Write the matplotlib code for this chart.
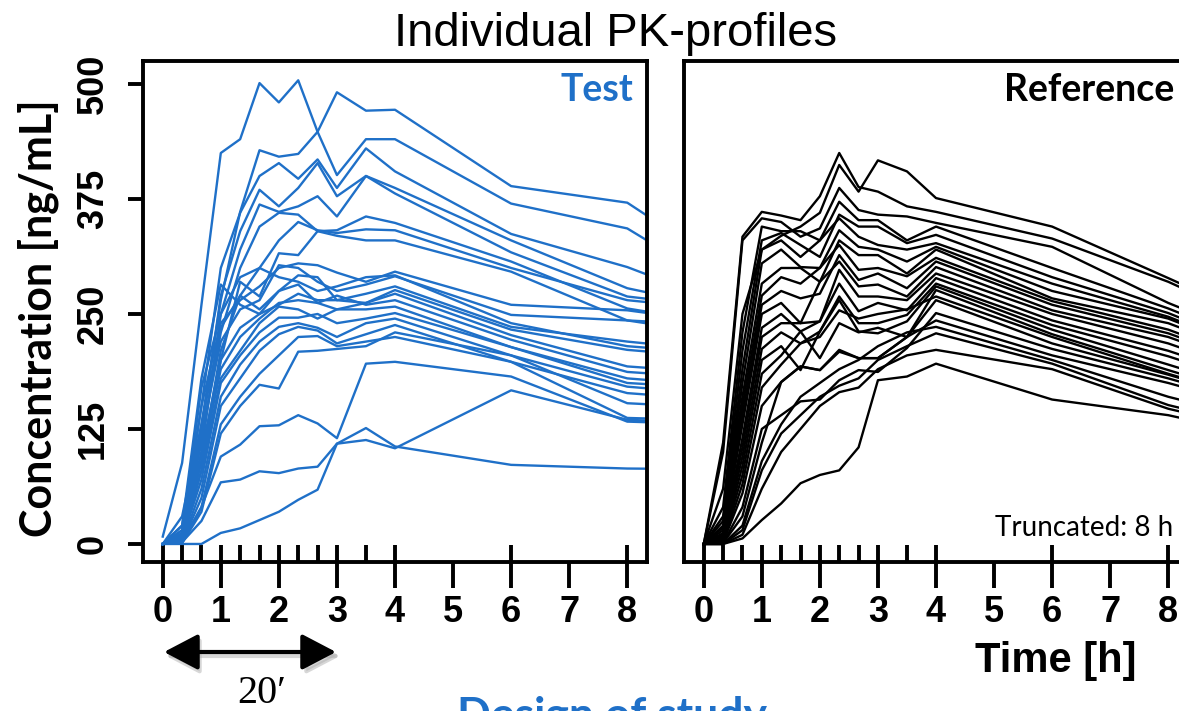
import matplotlib
matplotlib.use("Agg")
import matplotlib.pyplot as plt
from matplotlib.patches import FancyArrowPatch, ArrowStyle

# ---------------- data ----------------
sample_times = [0, 1/3, 2/3, 1, 4/3, 5/3, 2, 7/3, 8/3, 3, 3.5, 4, 6, 8, 12]
x_major_ticks = [0, 1, 2, 3, 4, 5, 6, 7, 8]
x_tick_labels = ["0", "1", "2", "3", "4", "5", "6", "7", "8"]
x_sample_ticks = [0, 1/3, 2/3, 1, 4/3, 5/3, 2, 7/3, 8/3, 3, 3.5, 4, 6, 8]
y_ticks = [0, 125, 250, 375, 500]
y_tick_labels = ["0", "125", "250", "375", "500"]

test_conc = [
    [8, 88, 260, 425, 440, 501, 480, 504, 448, 401, 440, 440, 370, 343, 190],
    [0, 30, 130, 265, 361, 428, 421, 424, 448, 491, 471, 472, 389, 371, 205],
    [0, 20, 150, 300, 360, 400, 414, 397, 418, 387, 430, 405, 337, 301, 205],
    [0, 15, 120, 270, 340, 385, 367, 387, 414, 378, 400, 387, 330, 278, 225],
    [0, 10, 100, 250, 320, 369, 361, 367, 378, 356, 400, 381, 317, 269, 240],
    [0, 12, 110, 230, 300, 345, 360, 358, 340, 341, 356, 349, 307, 256, 215],
    [0, 8, 90, 210, 270, 300, 330, 350, 341, 338, 342, 341, 300, 265, 240],
    [0, 5, 80, 200, 285, 269, 316, 314, 340, 335, 330, 330, 296, 243, 230],
    [0, 10, 150, 240, 265, 280, 300, 305, 303, 295, 285, 296, 260, 254, 220],
    [0, 5, 120, 220, 255, 265, 303, 300, 285, 275, 282, 291, 249, 243, 205],
    [0, 8, 130, 235, 270, 255, 275, 292, 290, 265, 272, 280, 236, 220, 195],
    [0, 20, 180, 282, 260, 250, 260, 272, 265, 265, 262, 276, 233, 211, 190],
    [0, 6, 100, 200, 235, 250, 275, 282, 262, 255, 262, 272, 227, 193, 175],
    [0, 4, 90, 190, 225, 245, 262, 265, 262, 270, 260, 265, 222, 187, 170],
    [0, 3, 80, 180, 210, 240, 258, 255, 245, 255, 255, 258, 214, 180, 160],
    [0, 5, 70, 175, 205, 230, 246, 246, 250, 240, 245, 251, 214, 175, 160],
    [0, 2, 60, 160, 195, 220, 236, 240, 235, 225, 240, 245, 205, 171, 150],
    [0, 2, 50, 150, 180, 210, 228, 236, 232, 218, 228, 238, 198, 164, 145],
    [0, 1, 40, 130, 160, 185, 205, 225, 226, 215, 220, 225, 198, 137, 130],
    [0, 1, 35, 120, 150, 173, 169, 209, 210, 212, 215, 230, 205, 153, 140],
    [0, 15, 170, 250, 290, 300, 290, 285, 275, 280, 290, 292, 240, 215, 195],
    [0, 3, 40, 95, 108, 128, 129, 140, 131, 115, 196, 198, 182, 133, 125],
    [0, 2, 25, 67, 70, 79, 77, 82, 84, 109, 126, 106, 86, 82, 80],
    [0, 0, 0, 12, 17, 26, 35, 48, 59, 109, 113, 104, 167, 135, 125],
]

reference_conc = [
    [0, 110, 334, 361, 357, 352, 378, 425, 388, 383, 367, 361, 332, 285, 170],
    [0, 60, 250, 320, 335, 345, 360, 412, 383, 417, 405, 376, 345, 289, 175],
    [0, 100, 330, 354, 350, 334, 343, 387, 363, 358, 356, 349, 323, 262, 160],
    [0, 40, 230, 345, 340, 340, 330, 372, 352, 352, 330, 345, 300, 256, 155],
    [0, 30, 210, 330, 338, 325, 312, 358, 345, 345, 327, 336, 290, 251, 150],
    [0, 25, 190, 320, 330, 312, 330, 354, 334, 325, 320, 327, 283, 247, 148],
    [0, 20, 175, 305, 320, 301, 300, 341, 323, 320, 307, 323, 275, 245, 147],
    [0, 18, 160, 283, 300, 300, 285, 330, 314, 314, 294, 320, 267, 240, 145],
    [0, 15, 150, 270, 290, 283, 300, 325, 298, 300, 291, 311, 264, 233, 140],
    [0, 12, 140, 260, 275, 267, 272, 314, 287, 294, 278, 307, 260, 229, 138],
    [0, 10, 130, 250, 262, 240, 285, 307, 280, 282, 269, 301, 254, 225, 135],
    [0, 8, 115, 235, 250, 231, 242, 298, 269, 269, 265, 294, 250, 218, 130],
    [0, 6, 105, 225, 240, 240, 242, 283, 253, 262, 254, 289, 243, 210, 126],
    [0, 5, 95, 212, 230, 218, 231, 269, 240, 240, 249, 283, 238, 204, 122],
    [0, 4, 85, 200, 215, 189, 231, 265, 231, 229, 242, 280, 233, 195, 117],
    [0, 3, 75, 185, 205, 231, 202, 240, 230, 235, 225, 276, 228, 189, 113],
    [0, 2, 65, 170, 195, 218, 225, 254, 245, 250, 255, 269, 225, 185, 111],
    [0, 2, 55, 150, 176, 193, 189, 211, 202, 202, 225, 265, 218, 184, 110],
    [0, 1, 40, 125, 140, 155, 157, 178, 189, 187, 213, 251, 212, 180, 108],
    [0, 1, 30, 110, 176, 193, 189, 209, 202, 202, 225, 243, 205, 175, 105],
    [0, 0, 20, 90, 130, 160, 175, 190, 200, 215, 230, 236, 200, 160, 96],
    [0, 0, 15, 80, 120, 140, 160, 172, 180, 200, 215, 229, 196, 151, 90],
    [0, 0, 10, 60, 100, 125, 150, 165, 170, 190, 205, 211, 190, 147, 88],
    [0, 0, 6, 26, 44, 66, 75, 80, 105, 178, 182, 196, 157, 140, 84],
]

# ---------------- style ----------------
BLUE = "#1f70c8"
plt.rcParams["font.family"] = ["Liberation Sans", "DejaVu Sans"]

W, H = 1179, 711
fig = plt.figure(figsize=(W / 100, H / 100), dpi=100)


def rect(l, t, r, b):
    return [l / W, 1 - b / H, (r - l) / W, (b - t) / H]


def fx(px):
    return px / W


def fy(py):
    return 1 - py / H


axL = fig.add_axes(rect(143, 61, 647, 562))
axR = fig.add_axes(rect(684, 61, 1188, 562))

for ax, data, col in ((axL, test_conc, BLUE), (axR, reference_conc, "black")):
    for row in data:
        ax.plot(sample_times, row, color=col, lw=1.7)
    ax.set_xlim(-0.34, 8.34)
    ax.set_ylim(-19.6, 525)
    for sp in ax.spines.values():
        sp.set_linewidth(2.8)
    ax.xaxis.remove_overlapping_locs = False
    ax.set_xticks(x_major_ticks)
    ax.set_xticklabels(x_tick_labels, fontweight="bold", fontsize=26)
    ax.set_xticks(x_sample_ticks, minor=True)
    ax.tick_params(axis="x", which="major", direction="out", length=19,
                   width=2.8, pad=5)
    ax.tick_params(axis="x", which="minor", direction="in", length=12,
                   width=2.8)

axL.set_yticks(y_ticks)
axL.set_yticklabels(y_tick_labels, fontweight="bold", fontsize=26,
                    rotation=90, va="center")
axL.tick_params(axis="y", direction="out", length=11, width=2.8, pad=12)
axR.set_yticks([])

# panel labels
fig.text(fx(633), fy(101), "Test", color=BLUE, fontsize=27,
         fontweight="bold", family=["Lato", "DejaVu Sans"], ha="right",
         va="baseline")
fig.text(fx(1174), fy(101), "Reference", color="black", fontsize=27,
         fontweight="bold", family=["Lato", "DejaVu Sans"], ha="right",
         va="baseline")
fig.text(fx(1173), fy(536), "Truncated: 8 h", color="black", fontsize=20,
         family=["Lato", "DejaVu Sans"], ha="right", va="baseline")

# title and axis labels
fig.text(fx(616), fy(46), "Individual PK-profiles", fontsize=34,
         ha="center", va="baseline")
fig.text(fx(38), fy(318), "Concentration [ng/mL]", fontsize=31,
         fontweight="bold", family=["Lato", "DejaVu Sans"], rotation=90,
         ha="center", va="center")
fig.text(fx(1056), fy(672), "Time [h]", fontsize=30, fontweight="bold",
         ha="center", va="baseline")

# double-headed arrow with soft shadow
style = ArrowStyle("<|-|>", head_length=21, head_width=11)
shadow = FancyArrowPatch((fx(166), fy(656)), (fx(340), fy(656)),
                         transform=fig.transFigure, arrowstyle=style,
                         mutation_scale=1, lw=3, color="#b0b0b0",
                         alpha=0.5, shrinkA=0, shrinkB=0)
fig.add_artist(shadow)
arrow = FancyArrowPatch((fx(164), fy(652)), (fx(336), fy(652)),
                        transform=fig.transFigure, arrowstyle=style,
                        mutation_scale=1, lw=3, color="black",
                        shrinkA=0, shrinkB=0)
fig.add_artist(arrow)
fig.text(fx(262), fy(703), "20\u2032", fontsize=29,
         family=["Liberation Serif", "DejaVu Serif"], ha="center",
         va="baseline")

fig.text(fx(612), fy(729), "Design of study", color=BLUE, fontsize=32,
         fontweight="bold", family=["Lato", "DejaVu Sans"], ha="center",
         va="baseline")

fig.savefig("out.png", dpi=100)
